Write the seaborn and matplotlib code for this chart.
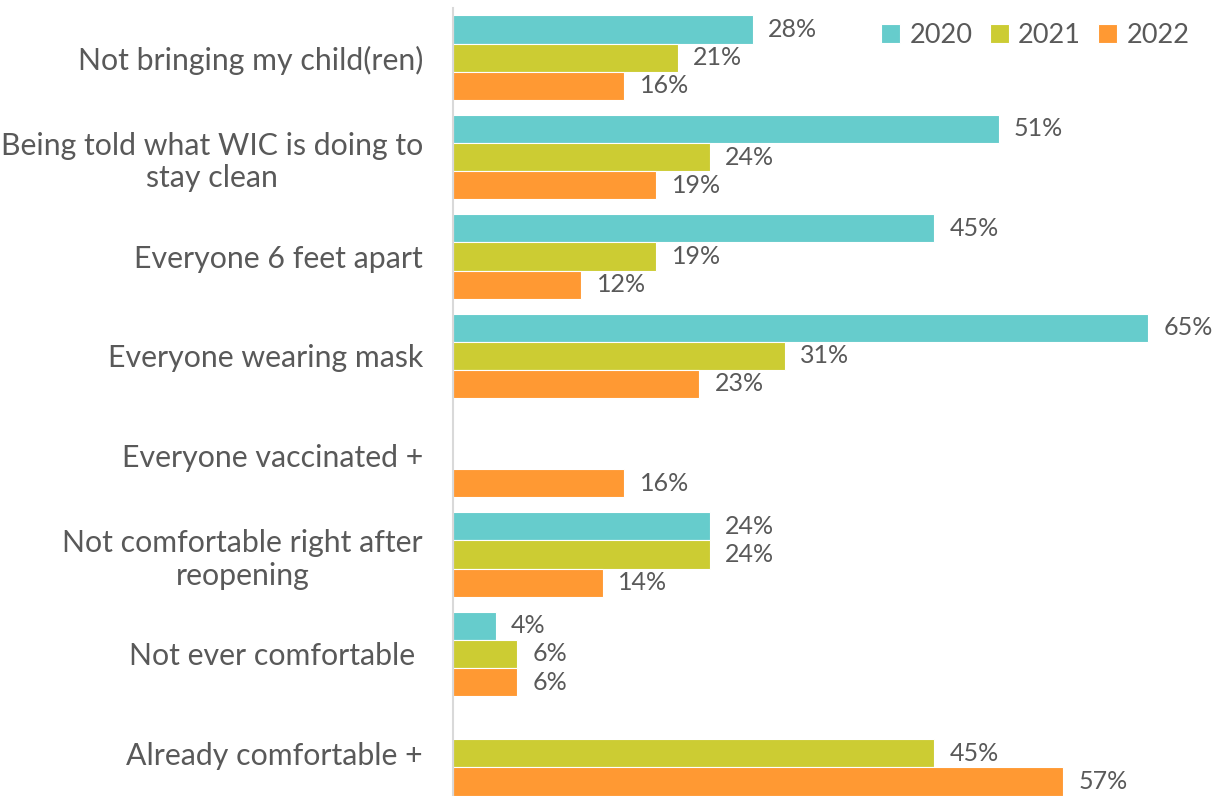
import numpy as np
import pandas as pd
import matplotlib
matplotlib.use("Agg")
import matplotlib.pyplot as plt
import seaborn as sns

categories = [
    "Not bringing my child(ren)",
    "Being told what WIC is doing to\nstay clean",
    "Everyone 6 feet apart",
    "Everyone wearing mask",
    "Everyone vaccinated +",
    "Not comfortable right after\nreopening",
    "Not ever comfortable ",
    "Already comfortable +",
]
years = ["2020", "2021", "2022"]
values_2020 = [28, 51, 45, 65, np.nan, 24, 4, np.nan]
values_2021 = [21, 24, 19, 31, np.nan, 24, 6, 45]
values_2022 = [16, 19, 12, 23, 16, 14, 6, 57]
colors = ["#66CCCC", "#CCCC33", "#FF9933"]

rows = []
for year, vals in zip(years, [values_2020, values_2021, values_2022]):
    for cat, v in zip(categories, vals):
        rows.append({"Category": cat, "Year": year, "Value": v})
df = pd.DataFrame(rows)

sns.set_theme(style="white")
plt.rcParams["font.family"] = ["Lato", "DejaVu Sans"]
text_color = "#595959"

fig = plt.figure(figsize=(12.16, 7.96), dpi=100)
ax = fig.add_axes([453 / 1216, 0.0, 749 / 1216, 788 / 796])

sns.barplot(
    data=df, y="Category", x="Value", hue="Year", order=categories,
    hue_order=years, palette=colors, orient="h", width=0.85,
    edgecolor="white", linewidth=0.8, saturation=1, ax=ax, errorbar=None,
)

for container in ax.containers:
    labels = [f"{b.get_width():.0f}%" if np.isfinite(b.get_width()) and b.get_width() > 0 else ""
              for b in container]
    ax.bar_label(container, labels=labels, padding=11, fontsize=18, color=text_color)

ax.set_xlim(0, 70)
ax.set_ylim(7.43, -0.5)
ax.set_xlabel("")
ax.set_ylabel("")
ax.set_xticks([])
ax.tick_params(axis="y", length=0, pad=21.6, labelsize=21.8, labelcolor=text_color)
for lbl in ax.get_yticklabels():
    lbl.set_horizontalalignment("right")
    lbl.set_multialignment("center")

for side in ["top", "right", "bottom"]:
    ax.spines[side].set_visible(False)
ax.spines["left"].set_color("#D9D9D9")
ax.spines["left"].set_linewidth(1.5)

leg = ax.legend(
    loc="upper right", ncol=3, frameon=False, fontsize=19.5,
    handlelength=0.7, handleheight=0.7, handletextpad=0.35, columnspacing=0.63,
    bbox_to_anchor=(1.016, 1.012),
)
for t in leg.get_texts():
    t.set_color(text_color)

fig.savefig("out.png", dpi=100)
